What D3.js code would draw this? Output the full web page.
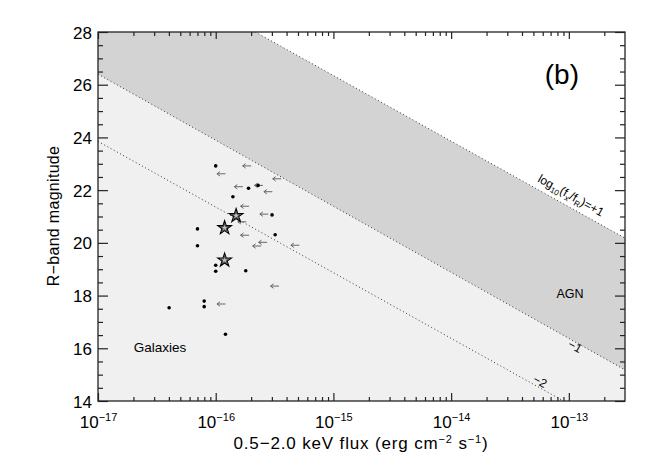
<!DOCTYPE html>
<html>
<head>
<meta charset="utf-8">
<script src="https://cdn.jsdelivr.net/npm/d3@7"></script>
<style>
  body { margin: 0; background: #fff; }
  svg text { font-family: "Liberation Sans", Arial, sans-serif; fill: #000; }
</style>
</head>
<body>
<div id="chart"></div>
<script>
// detected sources: [flux, R mag]
var dots = [
  [1.00e-16, 22.92], [1.90e-16, 22.07], [2.29e-16, 22.18], [1.40e-16, 21.75],
  [3.01e-16, 21.06], [7.0e-17, 20.53], [3.2e-16, 20.31], [7.0e-17, 19.89],
  [1.00e-16, 19.15], [1.00e-16, 18.92], [1.80e-16, 18.94], [4.02e-17, 17.54],
  [7.98e-17, 17.79], [7.98e-17, 17.58], [1.21e-16, 16.53]
];
// flux upper limits
var limits = [
  [2.0e-16, 22.92], [1.21e-16, 22.62], [1.70e-16, 22.13], [2.52e-16, 22.18],
  [3.6e-16, 22.43], [3.03e-16, 21.94], [1.92e-16, 21.39], [2.8e-16, 21.09],
  [1.82e-16, 20.80], [1.92e-16, 20.29], [2.73e-16, 20.02], [2.43e-16, 19.88],
  [5.14e-16, 19.91], [3.45e-16, 18.36], [1.21e-16, 17.68]
];
var stars = [[1.49e-16, 21.03], [1.19e-16, 20.57], [1.19e-16, 19.34]];

// log(fx/fR) lines, two end points each
var linePlus1 = [[2.17e-16, 28], [3e-13, 20.18]];
var lineMinus1 = [[1e-17, 26.4], [3e-13, 15.18]];
var lineMinus2 = [[1e-17, 23.85], [9e-14, 14]];

var xMajor = [1e-17, 1e-16, 1e-15, 1e-14, 1e-13];
var xExp = ["−17", "−16", "−15", "−14", "−13"];
var yMajor = [14, 16, 18, 20, 22, 24, 26, 28];

var W = 654, H = 467;
var L = 98, R = 625, T = 32, B = 401;

var svg = d3.select("#chart").append("svg").attr("width", W).attr("height", H);

var x = d3.scaleLog().domain([1e-17, 3e-13]).range([L, R]);
var y = d3.scaleLinear().domain([14, 28]).range([B, T]);

svg.append("clipPath").attr("id", "plot")
    .append("rect").attr("x", L).attr("y", T).attr("width", R - L).attr("height", B - T);

var g = svg.append("g").attr("clip-path", "url(#plot)");

// regions
g.append("rect").attr("x", L).attr("y", T).attr("width", R - L).attr("height", B - T)
    .attr("fill", "#f0f0f0");
var poly = d3.line().x(function(d) { return x(d[0]); }).y(function(d) { return y(d[1]); });
g.append("path")
    .attr("d", poly([lineMinus1[0], lineMinus1[1], [3e-13, 28], [1e-17, 28]]) + "Z")
    .attr("fill", "#d3d3d3");
g.append("path")
    .attr("d", poly([linePlus1[0], linePlus1[1], [3e-13, 28]]) + "Z")
    .attr("fill", "#fff");

[linePlus1, lineMinus1, lineMinus2].forEach(function(l) {
  g.append("path").attr("d", poly(l))
      .attr("fill", "none").attr("stroke", "#333").attr("stroke-width", 1)
      .attr("stroke-dasharray", "1,2.6");
});

// upper limit arrows
var arrows = g.append("g").attr("stroke", "#666").attr("stroke-width", 1).attr("fill", "none");
limits.forEach(function(d) {
  var px = x(d[0]), py = y(d[1]);
  arrows.append("path")
      .attr("d", "M" + px + "," + py + "H" + (px - 8.5) +
            "M" + (px - 5.5) + "," + (py - 2.2) + "L" + (px - 8.5) + "," + py + "L" + (px - 5.5) + "," + (py + 2.2));
});

g.append("g").selectAll("circle").data(dots).enter().append("circle")
    .attr("cx", function(d) { return x(d[0]); })
    .attr("cy", function(d) { return y(d[1]); })
    .attr("r", 1.8).attr("fill", "#000");

var starOuter = d3.symbol().type(d3.symbolStar).size(58);
var starInner = d3.symbol().type(d3.symbolStar).size(22);
var sg = g.append("g").selectAll("g").data(stars).enter().append("g")
    .attr("transform", function(d) { return "translate(" + x(d[0]) + "," + y(d[1]) + ")"; });
sg.append("path").attr("d", starOuter).attr("fill", "#bdbdbd").attr("stroke", "#000").attr("stroke-width", 1.1);
sg.append("path").attr("d", starInner).attr("fill", "none").attr("stroke", "#333").attr("stroke-width", 0.8);

// ticks
var xMinor = [];
for (var e = -17; e <= -13; e++) {
  for (var m = 2; m <= 9; m++) {
    var v = m * Math.pow(10, e);
    if (v <= 3e-13) xMinor.push(v);
  }
}
var yMinor = d3.range(14, 28.01, 0.5).filter(function(v) { return v % 2 !== 0; });

function tickGroup(axis, tr) {
  var a = svg.append("g").attr("transform", tr).call(axis);
  a.select(".domain").remove();
  a.selectAll("line").attr("stroke", "#222").attr("stroke-width", 1.2);
  return a;
}
tickGroup(d3.axisBottom(x).tickValues(xMinor).tickSize(-4).tickFormat(""), "translate(0," + B + ")");
tickGroup(d3.axisTop(x).tickValues(xMinor).tickSize(-4).tickFormat(""), "translate(0," + T + ")");
tickGroup(d3.axisTop(x).tickValues(xMajor).tickSize(-7).tickFormat(""), "translate(0," + T + ")");
var xa = tickGroup(d3.axisBottom(x).tickValues(xMajor).tickSize(-8).tickPadding(18), "translate(0," + B + ")");
xa.selectAll("text").each(function(d, i) {
  var t = d3.select(this).text("").attr("font-size", 17).attr("dy", 0).attr("y", 27);
  t.append("tspan").text("10");
  t.append("tspan").attr("font-size", 11).attr("dy", -7).text(xExp[i]);
});

tickGroup(d3.axisLeft(y).tickValues(yMinor).tickSize(-5).tickFormat(""), "translate(" + L + ",0)");
tickGroup(d3.axisRight(y).tickValues(yMinor).tickSize(-5).tickFormat(""), "translate(" + R + ",0)");
tickGroup(d3.axisRight(y).tickValues(yMajor).tickSize(-10).tickFormat(""), "translate(" + R + ",0)");
var ya = tickGroup(d3.axisLeft(y).tickValues(yMajor).tickSize(-10).tickPadding(16), "translate(" + L + ",0)");
ya.selectAll("text").attr("font-size", 17).attr("x", -6).attr("dy", "0.36em");

svg.append("rect").attr("x", L).attr("y", T).attr("width", R - L).attr("height", B - T)
    .attr("fill", "none").attr("stroke", "#222").attr("stroke-width", 1.3);

// axis titles
var xt = svg.append("text").attr("x", 361).attr("y", 449).attr("text-anchor", "middle")
    .attr("font-size", 17).attr("letter-spacing", 0.85);
xt.append("tspan").text("0.5−2.0 keV flux (erg cm");
xt.append("tspan").attr("font-size", 11).attr("dy", -6).text("−2");
xt.append("tspan").attr("dy", 6).text(" s");
xt.append("tspan").attr("font-size", 11).attr("dy", -6).text("−1");
xt.append("tspan").attr("dy", 6).text(")");

svg.append("text").attr("transform", "translate(59,216) rotate(-90)")
    .attr("text-anchor", "middle").attr("font-size", 16).attr("letter-spacing", 0.3).text("R−band magnitude");

// annotations
var ang = Math.atan2(y(linePlus1[1][1]) - y(linePlus1[0][1]), x(linePlus1[1][0]) - x(linePlus1[0][0])) * 180 / Math.PI;

var lab = svg.append("text").attr("transform", "translate(569,199) rotate(" + ang + ")")
    .attr("text-anchor", "middle").attr("font-size", 12);
lab.append("tspan").text("log");
lab.append("tspan").attr("font-size", 8).attr("dy", 3).text("10");
lab.append("tspan").attr("dy", -3).text("(f");
lab.append("tspan").attr("font-size", 8).attr("dy", 3).text("x");
lab.append("tspan").attr("dy", -3).text("/f");
lab.append("tspan").attr("font-size", 8).attr("dy", 3).text("R");
lab.append("tspan").attr("dy", -3).text(")=+1");

svg.append("text").attr("transform", "translate(573,350) rotate(" + ang + ")")
    .attr("text-anchor", "middle").attr("font-size", 12).text("−1");
svg.append("text").attr("transform", "translate(538,385) rotate(" + ang + ")")
    .attr("text-anchor", "middle").attr("font-size", 12).text("−2");

svg.append("text").attr("x", 570).attr("y", 298).attr("text-anchor", "middle").attr("font-size", 12.5).text("AGN");
svg.append("text").attr("x", 160).attr("y", 352).attr("text-anchor", "middle").attr("font-size", 13.5).text("Galaxies");
svg.append("text").attr("x", 579).attr("y", 84).attr("text-anchor", "end").attr("font-size", 28).text("(b)");
</script>
</body>
</html>
